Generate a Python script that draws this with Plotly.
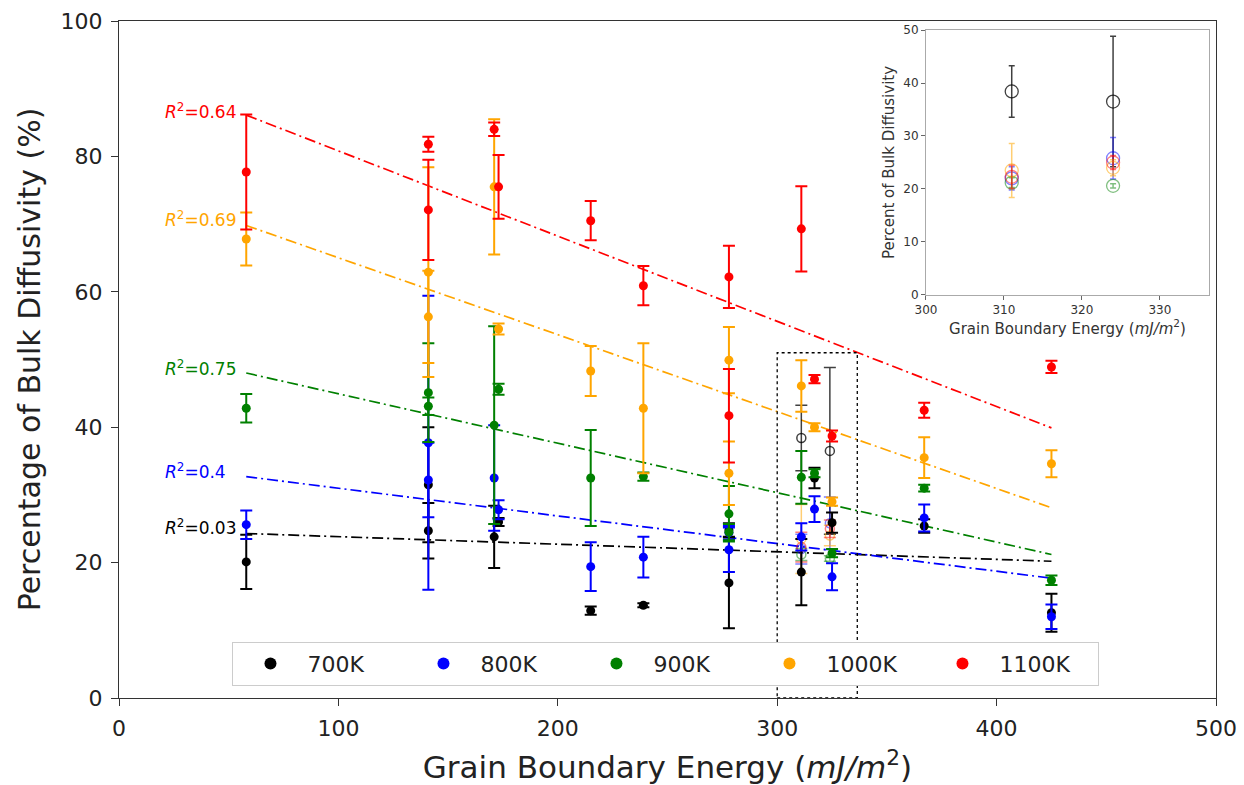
import plotly.graph_objects as go

# ---------------- data ----------------
temps = ["700K", "800K", "900K", "1000K", "1100K"]
colors = ["black", "blue", "green", "orange", "red"]

energy = [58, 141, 141, 171, 173, 215, 239, 278, 278, 311, 317, 325, 367, 425]

val_700 = [20.1, 31.5, 24.7, 23.8, 26.0, 12.9, 13.7, 17.0, 24.8, 18.6, 32.5, 25.9, 25.4, 12.6]
err_700 = [4.0, 8.5, 4.1, 4.6, 0.6, 0.6, 0.3, 6.7, 1.0, 4.9, 1.5, 1.5, 1.0, 2.8]
val_800 = [25.6, 37.7, 32.2, 32.5, 27.8, 19.4, 20.8, 21.9, 24.4, 23.8, 27.9, 17.9, 26.6, 12.0]
err_800 = [2.1, 21.7, 5.5, 7.8, 1.4, 3.6, 3.0, 3.3, 1.0, 2.0, 1.9, 2.0, 2.0, 1.8]
val_900 = [42.8, 45.1, 43.1, 40.3, 45.6, 32.5, 32.7, 27.2, 24.5, 32.6, 33.2, 21.4, 31.0, 17.4]
err_900 = [2.1, 7.3, 1.3, 14.6, 0.8, 7.1, 0.6, 4.1, 1.2, 3.9, 0.6, 0.6, 0.5, 0.7]
val_1000 = [67.8, 62.9, 56.3, 75.5, 54.5, 48.3, 42.8, 49.9, 33.2, 46.1, 40.0, 29.0, 35.5, 34.6]
err_1000 = [3.9, 15.5, 6.8, 10.0, 0.8, 3.7, 9.6, 4.9, 4.7, 3.8, 0.6, 0.6, 3.0, 2.0]
val_1100 = [77.7, 81.8, 72.1, 84.0, 75.5, 70.5, 60.9, 62.2, 41.7, 69.3, 47.1, 38.7, 42.5, 48.9]
err_1100 = [8.5, 1.1, 7.4, 1.0, 4.7, 2.9, 2.9, 4.6, 6.9, 6.3, 0.6, 0.8, 1.1, 0.9]

# open-circle (inset) data
energy_open = [311, 324]
open_700 = [38.4, 36.5]
open_err_700 = [4.85, 12.3]
open_800 = [22.0, 25.8]
open_err_800 = [2.2, 3.9]
open_900 = [21.2, 20.6]
open_err_900 = [0.9, 0.4]
open_1000 = [23.5, 24.0]
open_err_1000 = [5.1, 1.5]
open_1100 = [22.3, 25.0]
open_err_1100 = [2.2, 1.3]

# linear fit lines (end values)
fit_x = [58, 425]
fit_700 = [24.3, 20.2]
fit_800 = [32.7, 17.7]
fit_900 = [48.0, 21.2]
fit_1000 = [69.8, 28.1]
fit_1100 = [86.1, 39.9]
r2_labels = ["0.03", "0.4", "0.75", "0.69", "0.64"]
r2_label_y = [25.3, 33.5, 48.7, 70.7, 86.7]

vals = [val_700, val_800, val_900, val_1000, val_1100]
errs = [err_700, err_800, err_900, err_1000, err_1100]
opens = [open_700, open_800, open_900, open_1000, open_1100]
open_errs = [open_err_700, open_err_800, open_err_900, open_err_1000, open_err_1100]
fits = [fit_700, fit_800, fit_900, fit_1000, fit_1100]

rgba = {"black": "rgba(0,0,0,0.75)", "blue": "rgba(0,0,255,0.5)", "green": "rgba(0,128,0,0.5)",
        "orange": "rgba(255,165,0,0.55)", "red": "rgba(255,0,0,0.5)"}

FONT = "DejaVu Sans"
fig = go.Figure()

for c, f in zip(colors, fits):
    fig.add_trace(go.Scatter(x=fit_x, y=f, mode="lines", showlegend=False,
                             line=dict(color=c, width=1.7, dash="11px,4px,2px,4px"), hoverinfo="skip"))
for c, ov, oe in zip(colors, opens, open_errs):
    fig.add_trace(go.Scatter(x=energy_open, y=ov, mode="markers", showlegend=False,
                             marker=dict(symbol="circle-open", size=9, color=rgba[c], line=dict(width=1.5)),
                             error_y=dict(type="data", array=oe, color=rgba[c], thickness=1.5, width=6)))
for t, c, v, e, ov, oe in zip(temps, colors, vals, errs, opens, open_errs):
    fig.add_trace(go.Scatter(x=energy, y=v, mode="markers", name=t, showlegend=True,
                             marker=dict(size=9, color=c),
                             error_y=dict(type="data", array=e, color=c, thickness=2, width=6)))
    fig.add_trace(go.Scatter(x=energy_open, y=ov, mode="markers", showlegend=False,
                             xaxis="x2", yaxis="y2",
                             marker=dict(symbol="circle-open", size=13, color=rgba[c], line=dict(width=1.3)),
                             error_y=dict(type="data", array=oe, color=rgba[c], thickness=1.5, width=3)))

for c, lab, y in zip(colors, r2_labels, r2_label_y):
    fig.add_annotation(x=20, y=y, xref="x", yref="y", xanchor="left", yanchor="middle",
                       text="<i>R</i><sup>2</sup>=" + lab, showarrow=False,
                       font=dict(family=FONT, size=17, color=c))

fig.add_shape(type="rect", xref="x", yref="y", x0=300, x1=336.5, y0=0, y1=51,
              line=dict(color="black", width=1.3, dash="dot"))

fig.update_layout(
    width=1244, height=785,
    margin=dict(l=119, r=28, t=21, b=87),
    paper_bgcolor="white", plot_bgcolor="white",
    font=dict(family=FONT, color="#222"),
    xaxis=dict(range=[0, 500], tickvals=[0, 100, 200, 300, 400, 500],
               showline=True, mirror=True, linecolor="#333", linewidth=1.3,
               ticks="outside", ticklen=7, tickcolor="#333", showgrid=False, zeroline=False,
               ticklabelstandoff=3, automargin=False,
               tickfont=dict(size=22, family=FONT, color="#222"),
               title=dict(text="Grain Boundary Energy (<i>mJ/m</i><sup>2</sup>)", standoff=16,
                          font=dict(size=31, family=FONT, color="#222"))),
    yaxis=dict(range=[0, 100], tickvals=[0, 20, 40, 60, 80, 100],
               showline=True, mirror=True, linecolor="#333", linewidth=1.3,
               ticks="outside", ticklen=7, tickcolor="#333", showgrid=False, zeroline=False,
               ticklabelstandoff=4, automargin=False,
               tickfont=dict(size=22, family=FONT, color="#222"),
               title=dict(text="Percentage of Bulk Diffusivity (%)", standoff=10,
                          font=dict(size=30, family=FONT, color="#222"))),
    xaxis2=dict(domain=[0.7356, 0.9936], anchor="y2", range=[300, 336.3],
                tickvals=[300, 310, 320, 330], showline=True, mirror=True,
                linecolor="#aaa", linewidth=1, ticks="outside", ticklen=4, tickcolor="#666",
                showgrid=False, zeroline=False, automargin=False,
                tickfont=dict(size=12, family=FONT, color="#333"),
                title=dict(text="Grain Boundary Energy (<i>mJ/m</i><sup>2</sup>)", standoff=5,
                           font=dict(size=15, family=FONT, color="#333"))),
    yaxis2=dict(domain=[0.5953, 0.9867], anchor="x2", range=[0, 50],
                tickvals=[0, 10, 20, 30, 40, 50], showline=True, mirror=True,
                linecolor="#aaa", linewidth=1, ticks="outside", ticklen=4, tickcolor="#666",
                showgrid=False, zeroline=False, automargin=False,
                tickfont=dict(size=12, family=FONT, color="#333"),
                title=dict(text="Percent of Bulk Diffusivity", standoff=5,
                           font=dict(size=15, family=FONT, color="#333"))),
    legend=dict(orientation="h", x=0.4986, xanchor="center", y=0.018, yanchor="bottom",
                bgcolor="white", bordercolor="#ccc", borderwidth=1,
                font=dict(size=22, family=FONT, color="#222"),
                itemwidth=64, entrywidth=94, itemsizing="constant", tracegroupgap=0),
)

fig.write_html("out.html")
